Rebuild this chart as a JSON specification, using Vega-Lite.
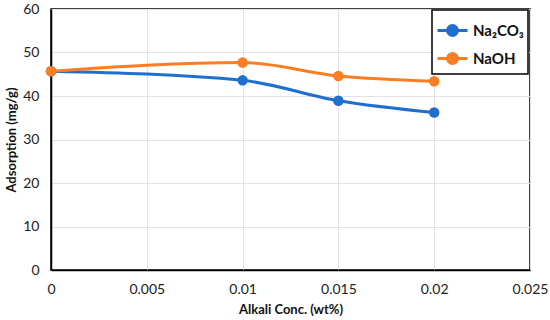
{
  "$schema": "https://vega.github.io/schema/vega-lite/v6.json",
  "width": 479,
  "height": 261,
  "autosize": {"type": "none"},
  "padding": {"left": 51, "top": 9, "right": 20, "bottom": 50},
  "background": "white",
  "config": {
    "font": "Lato",
    "view": {"stroke": "black", "strokeWidth": 1.5},
    "axis": {
      "gridColor": "#e3e3e3",
      "gridWidth": 1,
      "domainColor": "black",
      "domainWidth": 1.5,
      "ticks": false,
      "labelFont": "Lato",
      "labelFontSize": 14,
      "labelColor": "#222",
      "titleFont": "Lato",
      "titleFontSize": 13,
      "titleFontWeight": "bold",
      "titleColor": "#111"
    }
  },
  "data": {
    "values": [
      {"conc": 0, "ads": 45.7, "series": "Na₂CO₃"},
      {"conc": 0.01, "ads": 43.6, "series": "Na₂CO₃"},
      {"conc": 0.015, "ads": 38.9, "series": "Na₂CO₃"},
      {"conc": 0.02, "ads": 36.2, "series": "Na₂CO₃"},
      {"conc": 0, "ads": 45.7, "series": "NaOH"},
      {"conc": 0.01, "ads": 47.7, "series": "NaOH"},
      {"conc": 0.015, "ads": 44.6, "series": "NaOH"},
      {"conc": 0.02, "ads": 43.4, "series": "NaOH"}
    ]
  },
  "mark": {
    "type": "line",
    "interpolate": "monotone",
    "strokeWidth": 3,
    "point": {"filled": true, "size": 110, "opacity": 1}
  },
  "encoding": {
    "x": {
      "field": "conc",
      "type": "quantitative",
      "scale": {"domain": [0, 0.025], "nice": false},
      "axis": {"values": [0, 0.005, 0.01, 0.015, 0.02, 0.025], "format": "~g", "title": "Alkali Conc. (wt%)", "labelPadding": 12, "titleY": 33, "labelFlush": false}
    },
    "y": {
      "field": "ads",
      "type": "quantitative",
      "scale": {"domain": [0, 60], "nice": false},
      "axis": {"values": [0, 10, 20, 30, 40, 50, 60], "title": "Adsorption (mg/g)", "labelPadding": 12, "titleX": -33}
    },
    "color": {
      "field": "series",
      "type": "nominal",
      "scale": {"domain": ["Na₂CO₃", "NaOH"], "range": ["#1f6fcf", "#fb7d24"]},
      "legend": {
        "title": null,
        "orient": "none",
        "legendX": 381,
        "legendY": 1,
        "strokeColor": "black",
        "padding": 4,
        "fillColor": "white",
        "labelFont": "Lato",
        "labelFontSize": 15,
        "labelFontWeight": "bold",
        "labelColor": "#111",
        "symbolType": "M-1,0L1,0M-0.33,0A0.33,0.33,0,1,0,0.33,0A0.33,0.33,0,1,0,-0.33,0Z",
        "symbolSize": 900,
        "symbolStrokeWidth": 3,
        "rowPadding": 0,
        "labelOffset": 4,
        "encode": {
          "legend": {"update": {"strokeWidth": {"value": 1.5}}},
          "symbols": {"update": {"fill": {"scale": "color", "field": "value"}, "fillOpacity": {"value": 1}}}
        }
      }
    }
  }
}
